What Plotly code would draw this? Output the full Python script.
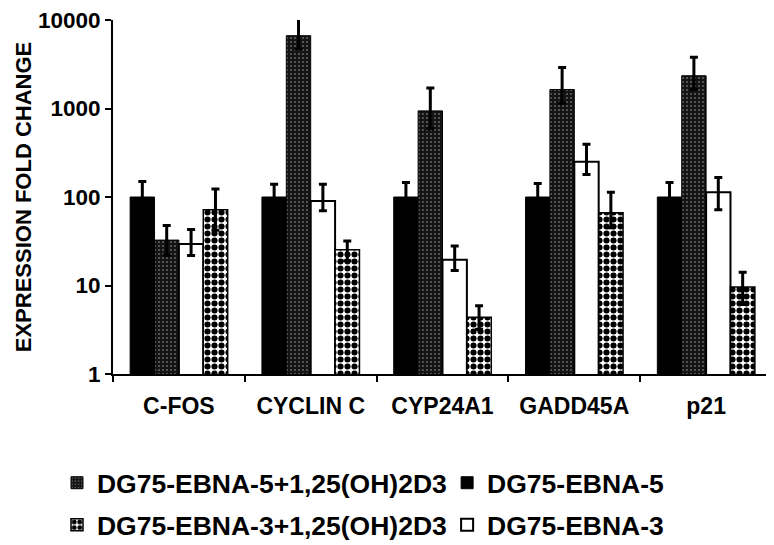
import plotly.graph_objects as go

categories = ["C-FOS", "CYCLIN C", "CYP24A1", "GADD45A", "p21"]

# DG75-EBNA-5 (solid black)
ebna5 = [100, 100, 100, 100, 100]
ebna5_hi = [150, 139, 146, 142, 146]
ebna5_lo = [67, 72, 68, 70, 68]

# DG75-EBNA-5 + 1,25(OH)2D3 (dark textured)
ebna5_d3 = [32.6, 6650, 940, 1640, 2345]
ebna5_d3_hi = [47.6, 11650, 1700, 2900, 3800]
ebna5_d3_lo = [22, 4700, 590, 1150, 1640]

# DG75-EBNA-3 (white)
ebna3 = [29.5, 90, 19.6, 250, 113]
ebna3_hi = [43, 139, 28, 395, 166]
ebna3_lo = [21.8, 70, 14.8, 180, 72]

# DG75-EBNA-3 + 1,25(OH)2D3 (spotted)
ebna3_d3 = [72, 25.3, 4.37, 66.5, 9.6]
ebna3_d3_hi = [123, 31.8, 5.9, 113, 14.1]
ebna3_d3_lo = [42, 19, 3.2, 45, 6.1]

y_tickvals = [1, 10, 100, 1000, 10000]
y_ticktext = ["1", "10", "100", "1000", "10000"]

FONT = "Liberation Sans, Arial, sans-serif"


def err(vals, hi, lo):
    return dict(type="data", symmetric=False,
                array=[h - v for v, h in zip(vals, hi)],
                arrayminus=[v - l for v, l in zip(vals, lo)],
                color="black", thickness=3, width=4)


fig = go.Figure()
fig.add_trace(go.Bar(
    x=categories, y=ebna5, name="DG75-EBNA-5", legend="legend2",
    marker=dict(color="black", line=dict(color="black", width=1)),
    error_y=err(ebna5, ebna5_hi, ebna5_lo), cliponaxis=False))
fig.add_trace(go.Bar(
    x=categories, y=ebna5_d3, name="DG75-EBNA-5+1,25(OH)2D3", legend="legend",
    marker=dict(color="#141414", line=dict(color="black", width=1),
                pattern=dict(shape=".", fgcolor="#a8a8a8", bgcolor="#141414",
                             size=4, solidity=0.12, fillmode="replace")),
    error_y=err(ebna5_d3, ebna5_d3_hi, ebna5_d3_lo), cliponaxis=False))
fig.add_trace(go.Bar(
    x=categories, y=ebna3, name="DG75-EBNA-3", legend="legend4",
    marker=dict(color="white", line=dict(color="black", width=2)),
    error_y=err(ebna3, ebna3_hi, ebna3_lo), cliponaxis=False))
fig.add_trace(go.Bar(
    x=categories, y=ebna3_d3, name="DG75-EBNA-3+1,25(OH)2D3", legend="legend3",
    marker=dict(color="white", line=dict(color="black", width=1.5),
                pattern=dict(shape=".", fgcolor="black", bgcolor="white",
                             size=7, solidity=0.6, fillmode="replace")),
    error_y=err(ebna3_d3, ebna3_d3_hi, ebna3_d3_lo), cliponaxis=False))

legend_common = dict(orientation="h", xanchor="left", yanchor="middle",
                     font=dict(family=FONT, size=26.5, color="black", weight="bold"),
                     bgcolor="rgba(0,0,0,0)", itemclick=False)

ROW1, ROW2 = -0.3079, -0.4266
COL1, COL2 = -0.085, 0.507

fig.update_layout(
    width=766, height=537,
    margin=dict(l=105, r=2, t=12, b=171, autoexpand=False),
    paper_bgcolor="white", plot_bgcolor="white",
    barmode="group", bargap=0.26, bargroupgap=0,
    font=dict(family=FONT, size=22, color="black", weight="bold"),
    showlegend=True,
    legend=dict(x=COL1, y=ROW1, **legend_common),
    legend2=dict(x=COL2, y=ROW1, **legend_common),
    legend3=dict(x=COL1, y=ROW2, **legend_common),
    legend4=dict(x=COL2, y=ROW2, **legend_common),
    xaxis=dict(showline=True, linecolor="black", linewidth=2, ticks="outside",
               tickson="boundaries", ticklen=6, tickwidth=2, tickcolor="black",
               ticklabelstandoff=10,
               showgrid=False, tickfont=dict(size=23, family=FONT, weight="bold")),
    yaxis=dict(type="log", range=[0, 4], tickvals=y_tickvals, ticktext=y_ticktext,
               showline=True, linecolor="black", linewidth=2, ticks="outside",
               ticklen=6, tickwidth=2, tickcolor="black", showgrid=False, zeroline=False,
               ticklabeloverflow="allow",
               tickfont=dict(size=22.5, family=FONT, weight="bold"),
               title=dict(text="EXPRESSION FOLD CHANGE", standoff=0,
                          font=dict(size=22, family=FONT, weight="bold"))),
)

fig.write_html("out.html")
